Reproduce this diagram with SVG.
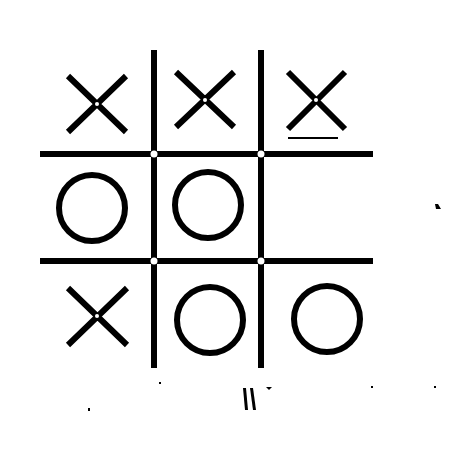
<svg xmlns="http://www.w3.org/2000/svg" width="450" height="450" viewBox="0 0 450 450">
<style>
.grid{stroke:#000;stroke-width:6;fill:none}
.x{stroke:#000;stroke-width:6;fill:none}
.o{stroke:#000;stroke-width:6;fill:none}
.gap{fill:#fff}
.speck{fill:#000}
</style>
<rect width="450" height="450" fill="#fff"/>
<g id="grid">
<line class="grid" x1="154" y1="50" x2="154" y2="368"/>
<line class="grid" x1="261" y1="50" x2="261" y2="368"/>
<line class="grid" x1="40" y1="154" x2="373" y2="154"/>
<line class="grid" x1="40" y1="261" x2="373" y2="261"/>
<circle class="gap" cx="154" cy="154" r="3.5"/>
<circle class="gap" cx="261" cy="154" r="3.5"/>
<circle class="gap" cx="154" cy="261" r="3.5"/>
<circle class="gap" cx="261" cy="261" r="3.5"/>
</g>
<g id="x1"><path class="x" d="M68 76L126 132M126 76L68 132"/><circle class="gap" cx="97" cy="104" r="2"/></g>
<g id="x2"><path class="x" d="M176 72L234 127M234 72L176 127"/><circle class="gap" cx="205" cy="100" r="2"/></g>
<g id="x3"><path class="x" d="M288 72L345 129M345 72L288 129"/><circle class="gap" cx="316" cy="100" r="2"/><line x1="288" y1="138" x2="338" y2="138" stroke="#000" stroke-width="2"/></g>
<g id="o1"><circle class="o" cx="92" cy="208" r="33"/></g>
<g id="o2"><circle class="o" cx="208" cy="205" r="33"/></g>
<g id="x4"><path class="x" d="M68 288L127 345M127 288L68 345"/><circle class="gap" cx="97" cy="316" r="2"/></g>
<g id="o3"><circle class="o" cx="210" cy="320" r="33"/></g>
<g id="o4"><circle class="o" cx="327" cy="319" r="33"/></g>
<g id="specks">
<polygon class="speck" points="243,388 246,388 248,410 245,410"/>
<polygon class="speck" points="250,388 253,388 256,410 253,410"/>
<polygon class="speck" points="266,387 272,387 269,390"/>
<polygon class="speck" points="435,204 438,204 441,209 436,209"/>
<rect class="speck" x="159" y="382" width="2" height="2"/>
<rect class="speck" x="88" y="408" width="2" height="3"/>
<rect class="speck" x="371" y="386" width="2" height="2"/>
<rect class="speck" x="434" y="386" width="2" height="2"/>
</g>
</svg>
